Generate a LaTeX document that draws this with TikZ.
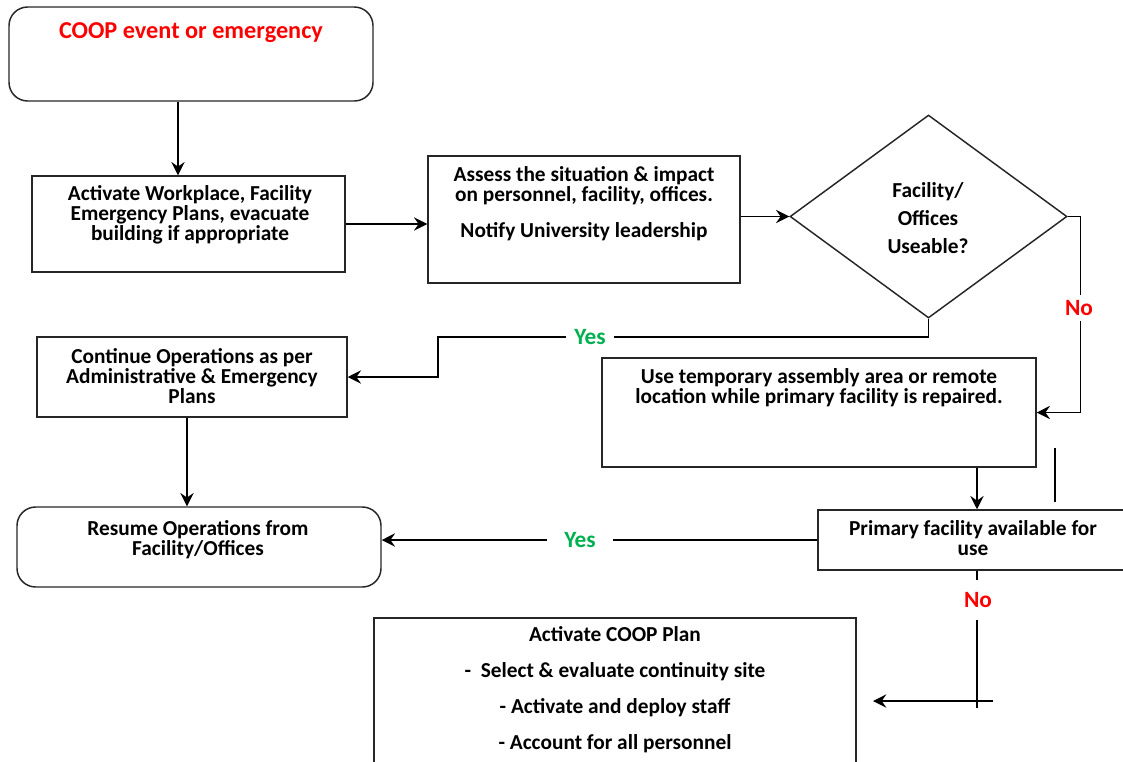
\documentclass[tikz,border=0pt]{standalone}
\usepackage{fontspec}
\setmainfont{Carlito}
\usetikzlibrary{arrows.meta,shapes.geometric,fit}
\definecolor{coopred}{RGB}{255,0,0}
\definecolor{yesgreen}{RGB}{0,176,80}
\begin{document}
\begin{tikzpicture}[x=0.75pt,y=-0.75pt,
  box/.style={draw=black!85, line width=1.1pt, inner sep=0pt},
  rbox/.style={box, rounded corners=14pt},
  txt/.style={font=\bfseries\fontsize{16}{15}\selectfont, align=center, inner sep=0pt},
  lbl/.style={font=\bfseries\fontsize{17.5}{19}\selectfont, fill=white, inner xsep=6pt, inner ysep=4pt},
  arr/.style={line width=1pt, -{Stealth[length=10pt,width=10pt,inset=3.5pt]}},
  ln/.style={line width=1pt}]
\useasboundingbox (0,0) rectangle (1123,761);
\clip (0,0) rectangle (1123,761);
\node[rbox, fit={(9,7) (373,101)}] (start) {};
\node[txt, text=coopred, font=\bfseries\fontsize{18.2}{20}\selectfont] (tstart) at (191,33) {COOP event or emergency};
\node[box, fit={(32,176) (345,272)}] (b2) {};
\node[txt] (t2) at (190,215) {Activate Workplace, Facility\\Emergency Plans, evacuate\\building if appropriate};
\node[box, fit={(428,156) (740,283)}] (b3) {};
\node[txt] (t3) at (584,204) {Assess the situation \& impact\\on personnel, facility, offices.\\[12pt]Notify University leadership};
\node[box, diamond, minimum width=207.75pt, minimum height=152.25pt] (dia) at (928.5,216.5) {};
\node[txt] (tdia) at (928,218) {Facility/\\[6pt]Offices\\[6pt]Useable?};
\node[box, fit={(37,337) (347,417)}] (b4) {};
\node[txt] (t4) at (192,376) {Continue Operations as per\\Administrative \& Emergency\\Plans};
\node[rbox, fit={(17,507) (381,587)}] (b6) {};
\node[txt] (t6) at (198,540) {Resume Operations from\\Facility/Offices};
\node[box, fit={(602,358) (1036,467)}] (b5) {};
\node[txt] (t5) at (819,388) {Use temporary assembly area or remote\\location while primary facility is repaired.};
\node[box, fit={(818,510) (1136,570)}] (b7) {};
\node[txt] (t7) at (973,538) {Primary facility available for\\use};
\node[box, fit={(374,618) (856,790)}] (b8) {};
\node[txt] (t8) at (615,690) {Activate COOP Plan\\[12pt]-\ \ Select \& evaluate continuity site\\[12pt]- Activate and deploy staff\\[12pt]- Account for all personnel};
% connectors
\draw[arr] ([xshift=-9.75pt]start.south) -- ([xshift=-9.75pt]start.south |- b2.north);
\draw[arr] (b2.east) -- (b2.east -| b3.west);
\draw[arr] (b3.east |- dia.west) -- (dia.west);
\draw[arr] (dia.east) -- ++(13,0) |- (b5.east);
\coordinate (ybend) at (438,337);
\draw[arr] (dia.south) |- (ybend) |- (b4.east);
\draw[arr] ([xshift=-3.75pt]b4.south) -- ([xshift=-3.75pt]b4.south |- b6.north);
\draw[arr] (b5.south -| b7.north) -- (b7.north);
\draw[arr] (b7.west) -- (b7.west -| b6.east);
\coordinate (noend) at (977,708);
\draw[ln] (b7.south) -- (noend);
\coordinate (hstart) at (993,701);
\coordinate (hend) at (873,701);
\draw[arr] (hstart) -- (hend);
\coordinate (s1) at (1055,448);
\coordinate (s2) at (1055,502);
\draw[ln] (s1) -- (s2);
% labels
\node[lbl, text=yesgreen] (yes1) at (590,337) {Yes};
\node[lbl, text=yesgreen, inner xsep=13pt] (yes2) at (580,540) {Yes};
\node[lbl, text=coopred] (no1) at (1079,308) {No};
\node[lbl, text=coopred, inner ysep=9pt] (no2) at (978,600) {No};
\end{tikzpicture}
\end{document}
